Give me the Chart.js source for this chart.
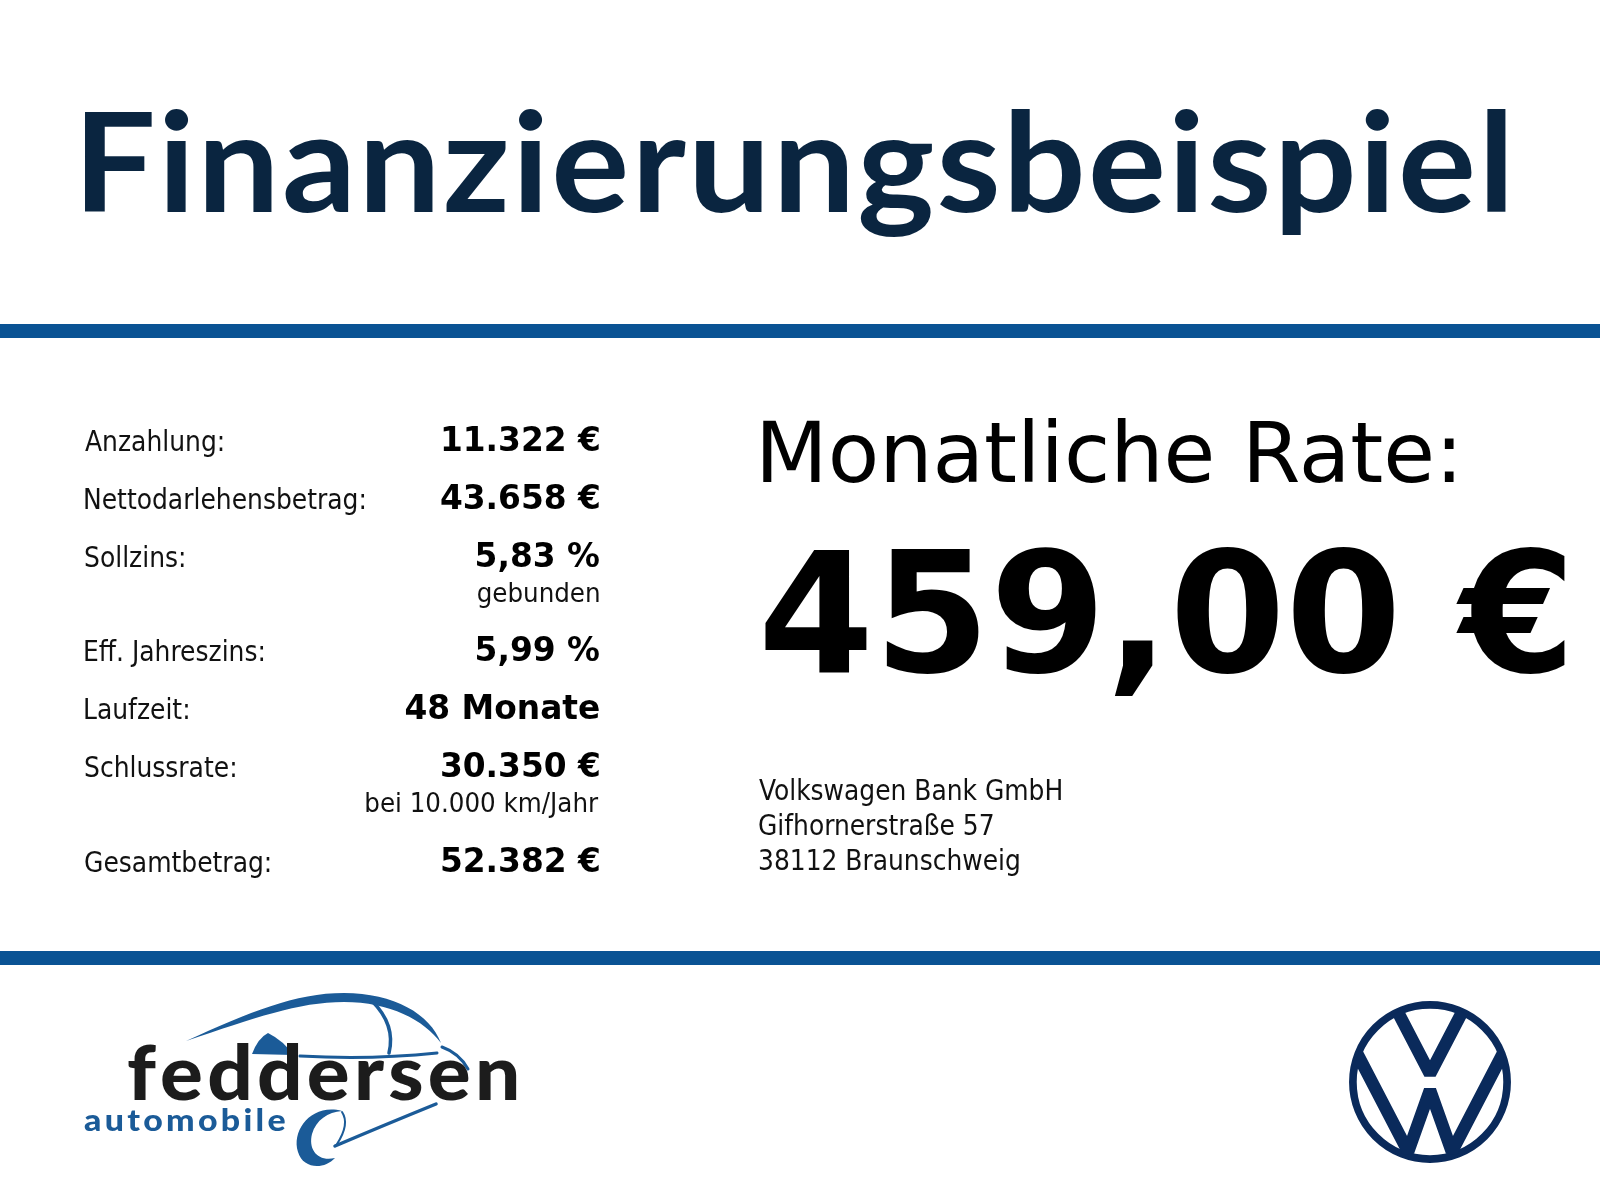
<!DOCTYPE html>
<html lang="de">
<head>
<meta charset="utf-8">
<title>Finanzierungsbeispiel</title>
<script src="https://cdn.jsdelivr.net/npm/chart.js@4.4.1/dist/chart.umd.min.js"></script>
<style>
  html, body { margin: 0; padding: 0; background: #fff; }
  #wrap { width: 1600px; height: 1200px; }
</style>
</head>
<body>
<div id="wrap"><canvas id="canvas"></canvas></div>
<script>
// Inhalt des Finanzierungsbeispiels
var titleText = 'Finanzierungsbeispiel';
var rowLabels = ['Anzahlung:', 'Nettodarlehensbetrag:', 'Sollzins:', 'Eff. Jahreszins:', 'Laufzeit:', 'Schlussrate:', 'Gesamtbetrag:'];
var rowValues = ['11.322 €', '43.658 €', '5,83 %', '5,99 %', '48 Monate', '30.350 €', '52.382 €'];
var rowNotes = ['', '', 'gebunden', '', '', 'bei 10.000 km/Jahr', ''];
var rateLabel = 'Monatliche Rate:';
var rateValue = '459,00 €';
var bankLines = ['Volkswagen Bank GmbH', 'Gifhornerstraße 57', '38112 Braunschweig'];
var dealerName = 'feddersen';
var dealerSub = 'automobile';

// Layout in Seitenpixeln (x 0..1600, y 0..1200)
var rowBaseY = [451, 509, 567, 661, 719, 777, 872];
var noteBaseY = [0, 0, 602, 0, 0, 812, 0];
var bankBaseY = [800, 835, 870];

var NAVY = '#0a2540';
var BAR = '#0a5394';
var VWBLUE = '#0a2a5b';
var DEALERBLUE = '#1b5b98';

var LABELFONT = '"DejaVu Sans Condensed", "DejaVu Sans", sans-serif';
var BOLDFONT = '"DejaVu Sans", sans-serif';

/* font size so that the ink of text is exactly inkWidth wide */
function fitSize(ctx, text, weight, family, inkWidth) {
  ctx.font = weight + ' 100px ' + family;
  var m = ctx.measureText(text);
  return 100 * inkWidth / (m.actualBoundingBoxLeft + m.actualBoundingBoxRight);
}

/* draws text with its ink starting at left (align 'left') or ending at right */
function drawInk(ctx, text, font, x, y, align, color) {
  ctx.font = font;
  ctx.fillStyle = color;
  ctx.textAlign = 'left';
  ctx.textBaseline = 'alphabetic';
  var m = ctx.measureText(text);
  if (align === 'right') {
    ctx.fillText(text, x - m.actualBoundingBoxRight, y);
  } else {
    ctx.fillText(text, x + m.actualBoundingBoxLeft, y);
  }
}

/* text at a fixed height, stretched sideways (plus a little tracking) to fill left..right */
function drawStretched(ctx, text, font, left, right, y, color, tracking) {
  ctx.save();
  ctx.font = font;
  ctx.fillStyle = color;
  ctx.textAlign = 'left';
  ctx.textBaseline = 'alphabetic';
  var adv = [], total = 0, i;
  for (i = 0; i < text.length; i++) {
    adv.push(ctx.measureText(text[i]).width);
    total += adv[i];
  }
  var first = ctx.measureText(text[0]);
  var last = ctx.measureText(text[text.length - 1]);
  var ink = total - adv[text.length - 1] + last.actualBoundingBoxRight + first.actualBoundingBoxLeft;
  ink += tracking * (text.length - 1);
  var sx = (right - left) / ink;
  ctx.translate(left, y);
  ctx.scale(sx, 1);
  var x = first.actualBoundingBoxLeft;
  for (i = 0; i < text.length; i++) {
    ctx.fillText(text[i], x, 0);
    x += adv[i] + tracking;
  }
  ctx.restore();
}

function drawDealerLogo(ctx) {
  ctx.save();
  ctx.fillStyle = DEALERBLUE;
  ctx.strokeStyle = DEALERBLUE;
  ctx.lineCap = 'round';

  // roof swoosh
  ctx.beginPath();
  ctx.moveTo(186, 1041);
  ctx.bezierCurveTo(250, 1012, 295, 993, 344, 993);
  ctx.bezierCurveTo(394, 993, 430, 1014, 441, 1043);
  ctx.bezierCurveTo(424, 1020, 390, 1002, 344, 1002);
  ctx.bezierCurveTo(298, 1002, 255, 1018, 186, 1041);
  ctx.fill();

  // windscreen
  ctx.lineWidth = 3.5;
  ctx.beginPath();
  ctx.moveTo(372, 1001);
  ctx.bezierCurveTo(387, 1016, 394, 1033, 389, 1053);
  ctx.stroke();

  // bonnet
  ctx.lineWidth = 3;
  ctx.beginPath();
  ctx.moveTo(300, 1056);
  ctx.quadraticCurveTo(370, 1060, 437, 1053);
  ctx.stroke();

  // front
  ctx.beginPath();
  ctx.moveTo(442, 1047);
  ctx.quadraticCurveTo(459, 1053, 468, 1069);
  ctx.stroke();

  // mirror wedge
  ctx.beginPath();
  ctx.moveTo(252, 1054);
  ctx.quadraticCurveTo(258, 1038, 268, 1033);
  ctx.quadraticCurveTo(284, 1041, 293, 1055);
  ctx.closePath();
  ctx.fill();

  // wheel crescent
  ctx.beginPath();
  ctx.moveTo(342, 1111);
  ctx.bezierCurveTo(312, 1103, 291, 1130, 298, 1152);
  ctx.bezierCurveTo(303, 1169, 324, 1170, 335, 1158);
  ctx.bezierCurveTo(318, 1162, 308, 1150, 312, 1134);
  ctx.bezierCurveTo(316, 1120, 328, 1112, 342, 1111);
  ctx.fill();

  ctx.lineWidth = 2;
  ctx.beginPath();
  ctx.moveTo(342, 1112);
  ctx.quadraticCurveTo(350, 1124, 337, 1144);
  ctx.stroke();

  // underbody line
  ctx.lineWidth = 3.5;
  ctx.beginPath();
  ctx.moveTo(335, 1146);
  ctx.quadraticCurveTo(382, 1126, 436, 1104);
  ctx.stroke();
  ctx.restore();

  drawStretched(ctx, dealerName, '900 76px Lato, sans-serif', 128, 517, 1100, '#1c1c1c', 4);
  drawStretched(ctx, dealerSub, '900 31px Lato, sans-serif', 84, 285, 1131, DEALERBLUE, 3);
}

function drawVW(ctx, cx, cy, r) {
  ctx.save();
  ctx.strokeStyle = VWBLUE;
  ctx.lineWidth = r * 0.095;
  ctx.beginPath();
  ctx.arc(cx, cy, r - r * 0.048, 0, Math.PI * 2);
  ctx.stroke();

  ctx.beginPath();
  ctx.arc(cx, cy, r * 0.95, 0, Math.PI * 2);
  ctx.clip();
  ctx.lineWidth = r * 0.155;
  ctx.lineJoin = 'bevel';
  ctx.lineCap = 'butt';
  // V
  ctx.beginPath();
  ctx.moveTo(cx - 0.52 * r, cy - 1.1 * r);
  ctx.lineTo(cx, cy - 0.10 * r);
  ctx.lineTo(cx + 0.52 * r, cy - 1.1 * r);
  ctx.stroke();
  // W
  ctx.beginPath();
  ctx.moveTo(cx - 1.05 * r, cy - 0.64 * r);
  ctx.lineTo(cx - 0.27 * r, cy + 0.86 * r);
  ctx.lineTo(cx, cy + 0.10 * r);
  ctx.lineTo(cx + 0.27 * r, cy + 0.86 * r);
  ctx.lineTo(cx + 1.05 * r, cy - 0.64 * r);
  ctx.stroke();
  ctx.restore();
}

var posterPlugin = {
  id: 'poster',
  afterDraw: function(chart) {
    var ctx = chart.ctx;
    var xs = chart.scales.x, ys = chart.scales.y;
    var X = function(v) { return xs.getPixelForValue(v); };
    var Y = function(v) { return ys.getPixelForValue(v); };
    ctx.save();

    // title: cap height ~98px, stretched to the reference width
    drawStretched(ctx, titleText, '700 137px Lato, sans-serif', X(85), X(1506), Y(212), NAVY, 2);

    // blue bars
    ctx.fillStyle = BAR;
    ctx.fillRect(X(0), Y(324), X(1600) - X(0), 14);
    ctx.fillRect(X(0), Y(951), X(1600) - X(0), 14);

    // table
    var ls = fitSize(ctx, rowLabels[1], '400', LABELFONT, 279);
    var vs = fitSize(ctx, rowValues[4], '700', BOLDFONT, 193);
    var ns = fitSize(ctx, rowNotes[5], '400', LABELFONT, 232);
    for (var i = 0; i < rowLabels.length; i++) {
      drawInk(ctx, rowLabels[i], '400 ' + ls + 'px ' + LABELFONT, X(85), Y(rowBaseY[i]), 'left', '#111');
      drawInk(ctx, rowValues[i], '700 ' + vs + 'px ' + BOLDFONT, X(599), Y(rowBaseY[i]), 'right', '#000');
      if (rowNotes[i]) {
        drawInk(ctx, rowNotes[i], '400 ' + ns + 'px ' + LABELFONT, X(599), Y(noteBaseY[i]), 'right', '#111');
      }
    }

    // monthly rate
    var rs = fitSize(ctx, rateLabel, '400', BOLDFONT, 1455 - 763);
    drawInk(ctx, rateLabel, '400 ' + rs + 'px ' + BOLDFONT, X(763), Y(482), 'left', '#000');
    var vs2 = fitSize(ctx, rateValue, '700', BOLDFONT, 1565 - 765);
    drawInk(ctx, rateValue, '700 ' + vs2 + 'px ' + BOLDFONT, X(765), Y(672), 'left', '#000');

    // bank address
    var bs = fitSize(ctx, bankLines[0], '400', LABELFONT, 1062 - 760);
    for (var j = 0; j < bankLines.length; j++) {
      drawInk(ctx, bankLines[j], '400 ' + bs + 'px ' + LABELFONT, X(759), Y(bankBaseY[j]), 'left', '#111');
    }

    // logos
    drawDealerLogo(ctx);
    drawVW(ctx, X(1430), Y(1082), 81);

    ctx.restore();
  }
};

var poster = new Chart(document.getElementById('canvas').getContext('2d'), {
  type: 'scatter',
  data: { datasets: [{ data: [] }] },
  options: {
    responsive: true,
    maintainAspectRatio: false,
    animation: false,
    events: [],
    layout: { padding: 0 },
    scales: {
      x: { type: 'linear', min: 0, max: 1600, display: false },
      y: { type: 'linear', min: 0, max: 1200, reverse: true, display: false }
    },
    plugins: { legend: { display: false }, tooltip: { enabled: false } }
  },
  plugins: [posterPlugin]
});
</script>
</body>
</html>
